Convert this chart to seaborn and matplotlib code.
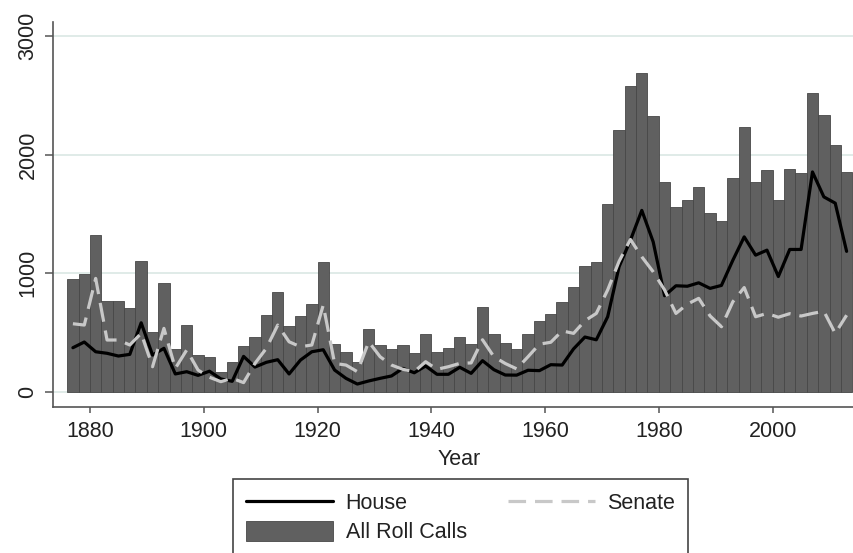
import matplotlib
matplotlib.use("Agg")
import matplotlib.pyplot as plt
import pandas as pd
import seaborn as sns
from matplotlib.lines import Line2D
from matplotlib.patches import Patch

# One value per Congress, placed at the Congress's first year
years = list(range(1877, 2014, 2))

all_roll_calls = [
    950, 995, 1320, 765, 765, 705, 1100, 502, 920, 359,
    561, 315, 297, 168, 255, 387, 465, 652, 845, 558,
    642, 738, 1098, 404, 339, 253, 533, 398, 359, 397,
    326, 486, 337, 369, 466, 404, 720, 486, 410, 359,
    492, 598, 659, 758, 881, 1061, 1096, 1588, 2205, 2578,
    2690, 2323, 1768, 1557, 1616, 1726, 1504, 1439, 1807, 2230,
    1769, 1869, 1615, 1883, 1845, 2520, 2334, 2084, 1850,
]

house = [
    373, 421, 339, 326, 303, 317, 583, 311, 368, 152,
    171, 140, 175, 110, 90, 300, 210, 250, 272, 152,
    269, 339, 356, 185, 115, 67, 93, 115, 135, 199,
    162, 219, 149, 149, 208, 157, 264, 188, 143, 142,
    183, 180, 230, 227, 363, 463, 440, 634, 1055, 1279,
    1530, 1265, 811, 895, 891, 920, 873, 898, 1110, 1307,
    1153, 1195, 973, 1201, 1201, 1854, 1644, 1591, 1185,
]

senate = [
    575, 564, 957, 438, 438, 396, 494, 213, 536, 199,
    354, 185, 124, 87, 115, 79, 241, 368, 564, 423,
    381, 396, 732, 241, 227, 171, 423, 297, 227, 191,
    171, 255, 191, 213, 241, 245, 440, 297, 240, 195,
    297, 403, 419, 515, 494, 600, 662, 860, 1100, 1285,
    1139, 1013, 860, 662, 740, 789, 641, 550, 760, 880,
    634, 662, 630, 660, 640, 662, 680, 494, 647,
]

y_ticks = [0, 1000, 2000, 3000]
x_ticks = list(range(1880, 2001, 20))

df = pd.DataFrame({
    "Year": years,
    "All Roll Calls": all_roll_calls,
    "House": house,
    "Senate": senate,
})

BAR = "#606060"
BAR_EDGE = "#474747"
SENATE_GRAY = "#c8c8c8"
AXIS_GRAY = "#555555"
TEXT = "#222222"
FS = 15.5

sns.set_theme(style="white")
plt.rcParams["font.family"] = ["Liberation Sans", "DejaVu Sans"]

fig = plt.figure(figsize=(8.54, 5.53), dpi=100)
ax = fig.add_axes([53 / 854, 145.7 / 553, 801 / 854, 385.6 / 553])

sns.barplot(data=df, x="Year", y="All Roll Calls", native_scale=True,
            width=1.0, color=BAR, saturation=1, edgecolor=BAR_EDGE,
            linewidth=0.6, ax=ax, zorder=2)
sns.lineplot(data=df, x="Year", y="House", color="black", lw=2.3,
             ax=ax, zorder=3)
sns.lineplot(data=df, x="Year", y="Senate", color=SENATE_GRAY, lw=2.3,
             ax=ax, zorder=4)
ax.lines[-1].set_dashes([6, 2.8])

ax.set_xlim(1873.5, 2014.3)
ax.set_ylim(-129, 3120)
ax.set_yticks(y_ticks)
ax.set_xticks(x_ticks)
ax.set_yticklabels([str(v) for v in y_ticks], rotation=90, va="center")

ax.yaxis.grid(True, color="#dde9e6", lw=1.3)
ax.xaxis.grid(False)
ax.set_axisbelow(True)

for side in ("top", "right"):
    ax.spines[side].set_visible(False)
for side in ("left", "bottom"):
    ax.spines[side].set_color(AXIS_GRAY)
    ax.spines[side].set_linewidth(1.2)

ax.tick_params(axis="y", left=True, direction="out", length=5.5, width=1.1,
               color=AXIS_GRAY, labelsize=FS, labelcolor=TEXT, pad=5)
ax.tick_params(axis="x", bottom=True, direction="out", length=4, width=1.1,
               color=AXIS_GRAY, labelsize=FS, labelcolor=TEXT, pad=6)

ax.set_ylabel("")
ax.set_xlabel("Year", fontsize=FS, color=TEXT)
ax.xaxis.set_label_coords(0.507, -0.108)

handles = [
    Line2D([], [], color="black", lw=2.3),
    Patch(facecolor=BAR, edgecolor=BAR_EDGE, lw=0.6),
    Line2D([], [], color=SENATE_GRAY, lw=2.3, dashes=[5.5, 2.8]),
]
labels = ["House", "All Roll Calls", "Senate"]
leg = fig.legend(handles, labels, ncol=2, loc="upper left",
                 bbox_to_anchor=(233 / 854, 1 - 479 / 553),
                 bbox_transform=fig.transFigure, frameon=True,
                 fancybox=False, shadow=False, edgecolor="#444444",
                 fontsize=FS, handlelength=4.05, handletextpad=0.58,
                 columnspacing=1.9, borderpad=0.6, labelspacing=0.3,
                 handleheight=1.07, borderaxespad=0)
leg.get_frame().set_linewidth(1.2)
leg.get_frame().set_alpha(1)
for t in leg.get_texts():
    t.set_color(TEXT)

fig.savefig("out.png", dpi=100)
